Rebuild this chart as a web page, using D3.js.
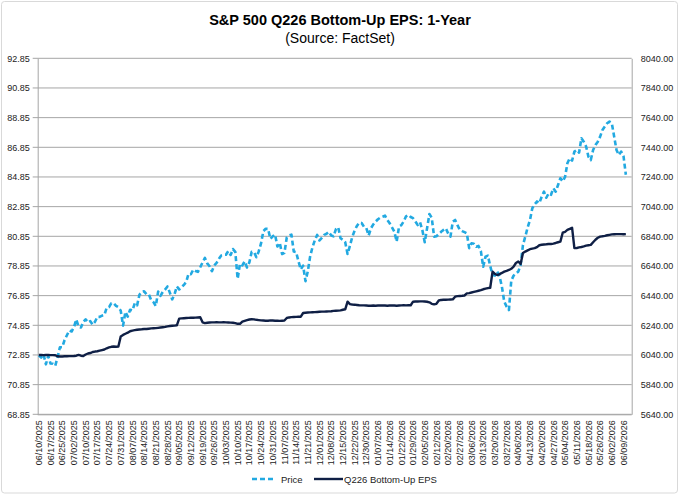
<!DOCTYPE html>
<html>
<head>
<meta charset="utf-8">
<script src="https://cdn.jsdelivr.net/npm/d3@7"></script>
<style>
  body { margin: 0; background: #fff; }
  svg { font-family: "Liberation Sans", Arial, sans-serif; }
</style>
</head>
<body>
<svg id="chart" width="680" height="495"></svg>
<script>
// tick labels, one every 5 trading days
const tickLabels = ["06/10/2025","06/17/2025","06/25/2025","07/02/2025","07/10/2025","07/17/2025","07/24/2025","07/31/2025",
  "08/07/2025","08/14/2025","08/21/2025","08/28/2025","09/05/2025","09/12/2025","09/19/2025","09/26/2025","10/03/2025",
  "10/10/2025","10/17/2025","10/24/2025","10/31/2025","11/07/2025","11/14/2025","11/21/2025","12/01/2025","12/08/2025",
  "12/15/2025","12/22/2025","12/30/2025","01/07/2026","01/14/2026","01/22/2026","01/29/2026","02/05/2026","02/12/2026",
  "02/20/2026","02/27/2026","03/06/2026","03/13/2026","03/20/2026","03/27/2026","04/06/2026","04/13/2026","04/20/2026",
  "04/27/2026","05/04/2026","05/11/2026","05/18/2026","05/26/2026","06/02/2026","06/09/2026"];
const nDays = 254;

// S&P 500 price (right axis)
const price = [
  6038,6022,6045,5977,6033,5982,5981,5967,6025,6092,6092,6141,6173,6205,
  6198,6227,6279,6229,6225,6263,6280,6259,6268,6244,6264,6297,6297,6305,6309,6359,6363,6389,6389,6371,6362,6339,
  6238,6330,6299,6345,6340,6389,6374,6446,6466,6469,6450,6449,6411,6396,6370,6467,6439,6466,6481,6502,6460,
  6415,6448,6502,6482,6495,6512,6532,6587,6584,6615,6606,6600,6631,6664,6694,6657,6638,6605,6644,6661,6688,
  6711,6715,6716,6740,6714,6754,6735,6553,6655,6644,6671,6630,6664,6735,6735,6699,6738,6792,6875,6891,6890,6823,6840,
  6852,6771,6796,6720,6728,6832,6846,6851,6737,6734,6672,6617,6642,6538,6603,6705,6766,6813,6849,
  6812,6829,6850,6857,6870,6846,6840,6887,6901,6827,6816,6800,6721,6775,6835,6878,6910,6932,6930,6905,6896,6845,
  6894,6920,6939,6955,6966,6972,6979,6950,6928,6900,6871,6804,6905,6915,6940,6975,6984,6970,6962,6940,
  6916,6935,6880,6800,6894,6990,6965,6838,6840,6855,6870,6883,6894,6860,6838,6939,6950,6915,6883,
  6875,6868,6860,6760,6793,6790,6770,6775,6740,6635,6703,6710,6640,6579,6575,6602,6570,6500,6400,6366,6343,6540,
  6575,6590,6602,6647,6781,6838,6900,6950,7029,7055,7075,7063,7107,7141,7100,7130,7120,7164,7141,
  7186,7231,7210,7240,7332,7366,7350,7411,7422,7404,7501,7478,7445,7377,7354,7422,7456,7478,7512,7557,
  7580,7602,7613,7602,7512,7422,7388,7411,7380,7255
];

// Q226 bottom-up EPS (left axis)
const eps = [
  72.85,72.85,72.84,72.85,72.85,72.84,72.84,72.83,72.76,72.75,72.75,72.76,72.76,72.77,
  72.77,72.78,72.80,72.85,72.80,72.78,72.88,72.95,72.98,73.05,73.08,73.10,73.14,73.18,73.22,73.30,73.36,73.40,73.42,73.40,73.42,74.10,
  74.20,74.28,74.35,74.45,74.49,74.52,74.55,74.57,74.58,74.60,74.60,74.62,74.64,74.65,74.66,74.68,74.70,74.72,74.74,74.78,74.80,
  74.82,74.83,74.85,75.30,75.32,75.33,75.34,75.35,75.36,75.36,75.37,75.38,75.39,75.05,75.00,75.02,75.04,75.05,75.05,75.06,75.05,
  75.05,75.06,75.05,75.04,75.03,75.02,75.00,74.95,74.95,75.10,75.15,75.20,75.24,75.26,75.25,75.22,75.20,75.18,75.17,75.16,75.16,75.18,75.17,
  75.16,75.16,75.15,75.16,75.17,75.34,75.38,75.40,75.41,75.42,75.43,75.43,75.68,75.70,75.71,75.72,75.73,75.74,75.75,
  75.76,75.77,75.77,75.78,75.79,75.80,75.82,75.83,75.84,75.86,75.90,75.93,76.44,76.28,76.25,76.24,76.22,76.20,76.19,76.19,76.18,76.17,
  76.17,76.18,76.17,76.18,76.18,76.19,76.18,76.17,76.18,76.19,76.18,76.17,76.18,76.19,76.20,76.19,76.20,76.20,76.44,76.45,
  76.45,76.46,76.46,76.45,76.44,76.40,76.30,76.26,76.30,76.52,76.56,76.57,76.57,76.58,76.59,76.60,76.78,76.82,76.83,
  76.84,76.86,77.00,77.02,77.06,77.10,77.14,77.18,77.22,77.28,77.32,77.36,77.38,78.47,78.32,78.24,78.30,78.38,78.47,78.52,78.58,78.66,
  78.80,79.05,79.15,78.98,79.72,79.82,79.90,79.98,80.02,80.05,80.12,80.25,80.28,80.30,80.31,80.33,80.33,80.36,80.40,
  80.45,80.49,81.09,81.15,81.28,81.35,81.43,80.05,80.06,80.10,80.13,80.17,80.22,80.25,80.27,80.45,80.62,80.75,80.83,80.85,
  80.88,80.92,80.95,80.98,80.99,81.00,81.00,81.00,80.99,81.00
];

const leftTicks = d3.range(68.85, 92.86, 2);
const rightTicks = d3.range(5640, 8041, 200);

const svg = d3.select("#chart");
const plot = {left: 37.7, right: 631.7, top: 58.3, bottom: 414.3};
const gridColor = "#A6A6A6";

// outer frame
svg.append("rect")
  .attr("x", 1.5).attr("y", 1.5).attr("width", 676).attr("height", 491.5)
  .attr("rx", 3).attr("fill", "#fff").attr("stroke", "#D9D9D9").attr("stroke-width", 1);

// titles
svg.append("text").attr("x", 340).attr("y", 25).attr("text-anchor", "middle")
  .style("font-size", "14.5px").style("font-weight", "bold").text("S&P 500 Q226 Bottom-Up EPS: 1-Year");
svg.append("text").attr("x", 340).attr("y", 43).attr("text-anchor", "middle")
  .style("font-size", "14px").text("(Source: FactSet)");

// scales
const x = d3.scaleBand().domain(d3.range(nDays)).range([plot.left, plot.right]);
const xc = i => x(i) + x.bandwidth() / 2;
const yLeft = d3.scaleLinear().domain([68.85, 92.85]).range([plot.bottom, plot.top]);
const yRight = d3.scaleLinear().domain([5640, 8040]).range([plot.bottom, plot.top]);

// gridlines
svg.append("g").selectAll("line")
  .data(leftTicks)
  .join("line")
  .attr("x1", plot.left - 5).attr("x2", plot.right)
  .attr("y1", d => yLeft(d)).attr("y2", d => yLeft(d))
  .attr("stroke", gridColor).attr("stroke-width", 1);

// left axis
const leftAxis = d3.axisLeft(yLeft).tickValues(leftTicks).tickFormat(d3.format(".2f")).tickSize(0).tickPadding(8);
const gl = svg.append("g").attr("transform", "translate(" + plot.left + ",0)").call(leftAxis);
gl.select(".domain").attr("stroke", gridColor);
gl.selectAll("text").style("font-size", "9px").attr("fill", "#222").style("font-family", "Liberation Sans, Arial, sans-serif");

// right axis
const rightAxis = d3.axisRight(yRight).tickValues(rightTicks).tickFormat(d3.format(".2f")).tickSize(0).tickPadding(9);
const gr = svg.append("g").attr("transform", "translate(" + plot.right + ",0)").call(rightAxis);
gr.select(".domain").attr("stroke", gridColor);
gr.selectAll("text").style("font-size", "9px").attr("fill", "#222").style("font-family", "Liberation Sans, Arial, sans-serif");

// bottom axis
const xAxis = d3.axisBottom(x)
  .tickValues(d3.range(0, 251, 5))
  .tickFormat(i => tickLabels[i / 5])
  .tickSize(0).tickPadding(0);
const gx = svg.append("g").attr("transform", "translate(0," + plot.bottom + ")").call(xAxis);
gx.select(".domain").attr("stroke", gridColor).attr("d", "M" + plot.left + ",0.5H" + plot.right);
gx.selectAll("text")
  .style("font-size", "9px").attr("fill", "#222").style("font-family", "Liberation Sans, Arial, sans-serif")
  .attr("text-anchor", "end")
  .attr("transform", "rotate(-90)")
  .attr("x", -6).attr("y", 0).attr("dy", "0.35em");

// lines
const priceLine = d3.line().x((d, i) => xc(i)).y(d => yRight(d));
const epsLine = d3.line().x((d, i) => xc(i)).y(d => yLeft(d));

svg.append("path").datum(price)
  .attr("fill", "none").attr("stroke", "#22A9E1").attr("stroke-width", 2.6)
  .attr("stroke-dasharray", "5,3").attr("stroke-linejoin", "round")
  .attr("d", priceLine);

svg.append("path").datum(eps)
  .attr("fill", "none").attr("stroke", "#0F1F45").attr("stroke-width", 2.4)
  .attr("stroke-linejoin", "round")
  .attr("d", epsLine);

// legend
const legend = svg.append("g").attr("transform", "translate(0,479)");
legend.append("line").attr("x1", 252).attr("x2", 276).attr("y1", 0).attr("y2", 0)
  .attr("stroke", "#22A9E1").attr("stroke-width", 2.6).attr("stroke-dasharray", "5,3");
legend.append("text").attr("x", 281).attr("y", 3.5).style("font-size", "9.5px").attr("fill", "#222").text("Price");
legend.append("line").attr("x1", 314).attr("x2", 343).attr("y1", 0).attr("y2", 0)
  .attr("stroke", "#0F1F45").attr("stroke-width", 2.4);
legend.append("text").attr("x", 344).attr("y", 3.5).style("font-size", "9.5px").attr("fill", "#222").text("Q226 Bottom-Up EPS");
</script>
</body>
</html>
